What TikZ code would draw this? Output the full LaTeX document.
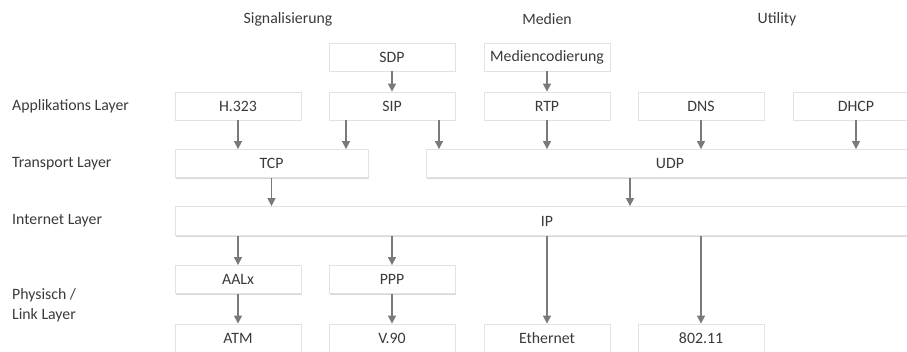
\documentclass[tikz,border=0pt]{standalone}
\usepackage{fontspec}
\setmainfont{Carlito}
\usetikzlibrary{shadows,arrows.meta}
\definecolor{txt}{HTML}{3A3A3A}
\definecolor{arrc}{HTML}{7A7A7A}
\definecolor{bord}{HTML}{E2E2E2}
\tikzset{
  lbl/.style={text=txt, font=\fontsize{15.8}{20}\selectfont, inner sep=0pt},
  bx/.style={draw=bord, line width=0.8pt, fill=white, text=txt,
    font=\fontsize{15.8}{20}\selectfont, minimum height=28pt, inner sep=0pt,
    drop shadow={shadow xshift=0.6pt, shadow yshift=-1.4pt, fill=black!15, opacity=1}},
  arr/.style={draw=arrc, line width=1.1pt, -{Triangle[length=8pt,width=8pt]}}
}
\begin{document}
\begin{tikzpicture}[x=1pt,y=-1pt]
\useasboundingbox (0,0) rectangle (907,351);
\clip (0,0) rectangle (907,351);
% headings
\node[lbl] (hsig) at (288,19) {Signalisierung};
\node[lbl] (hmed) at (547,19) {Medien};
\node[lbl] (hutl) at (777,19) {Utility};
% row labels
\node[lbl, anchor=west] (lapp) at (12,106) {Applikations Layer};
\node[lbl, anchor=west] (ltra) at (12,164) {Transport Layer};
\node[lbl, anchor=west] (lint) at (12,221) {Internet Layer};
\node[lbl, anchor=west, align=left] (lphy) at (12,305) {Physisch /\\Link Layer};
% boxes
\node[bx, minimum width=126pt] (SDP) at (392,57) {SDP};
\node[bx, minimum width=126pt] (MED) at (547,57) {Mediencodierung};
\node[bx, minimum width=126pt] (H323) at (238,106) {H.323};
\node[bx, minimum width=126pt] (SIP) at (392,106) {SIP};
\node[bx, minimum width=126pt] (RTP) at (547,106) {RTP};
\node[bx, minimum width=126pt] (DNS) at (701,106) {DNS};
\node[bx, minimum width=126pt] (DHCP) at (856,106) {DHCP};
\node[bx, minimum width=193pt] (TCP) at (271.5,163.5) {TCP};
\node[bx, minimum width=488pt] (UDP) at (670,163.5) {UDP};
\node[bx, minimum width=744pt, minimum height=29pt] (IP) at (547,221) {IP};
\node[bx, minimum width=126pt] (AAL) at (238,279.5) {AALx};
\node[bx, minimum width=126pt] (PPP) at (392,279.5) {PPP};
\node[bx, minimum width=126pt] (ATM) at (238,338) {ATM};
\node[bx, minimum width=126pt] (V90) at (392,338) {V.90};
\node[bx, minimum width=126pt] (ETH) at (547,338) {Ethernet};
\node[bx, minimum width=126pt] (WLAN) at (701,338) {802.11};
% arrows
\draw[arr] (SDP.south) -- (SIP.north);
\draw[arr] (MED.south) -- (RTP.north);
\draw[arr] (H323.south) -- (H323.south |- TCP.north);
\draw[arr] ([xshift=-46pt]SIP.south) -- ([xshift=-46pt]SIP.south |- TCP.north);
\draw[arr] ([xshift=47pt]SIP.south) -- ([xshift=47pt]SIP.south |- UDP.north);
\draw[arr] (RTP.south) -- (RTP.south |- UDP.north);
\draw[arr] (DNS.south) -- (DNS.south |- UDP.north);
\draw[arr] (DHCP.south) -- (DHCP.south |- UDP.north);
\draw[arr] (TCP.south) -- (TCP.south |- IP.north);
\draw[arr] ([xshift=-40pt]UDP.south) -- ([xshift=-40pt]UDP.south |- IP.north);
\draw[arr] (IP.south -| AAL.north) -- (AAL.north);
\draw[arr] (IP.south -| PPP.north) -- (PPP.north);
\draw[arr] (IP.south -| ETH.north) -- (ETH.north);
\draw[arr] (IP.south -| WLAN.north) -- (WLAN.north);
\draw[arr] (AAL.south) -- (ATM.north);
\draw[arr] (PPP.south) -- (V90.north);
\end{tikzpicture}
\end{document}
